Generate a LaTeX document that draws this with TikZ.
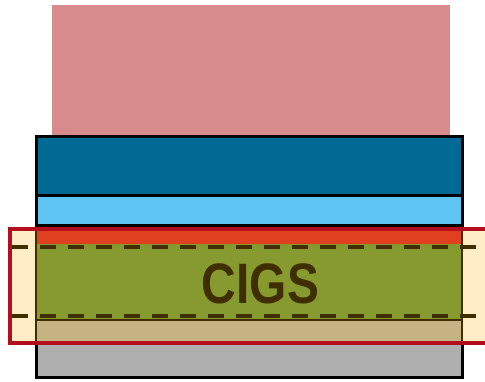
\documentclass[tikz,border=0pt]{standalone}
\usepackage{fontspec}
\usepackage{graphicx}
\setmainfont{Liberation Sans}
\definecolor{pinkc}{HTML}{D78B8C}
\definecolor{dblue}{HTML}{006A94}
\definecolor{lblue}{HTML}{5EC5F2}
\definecolor{redl}{HTML}{E0401F}
\definecolor{olive}{HTML}{869A2F}
\definecolor{tan}{HTML}{C5B383}
\definecolor{grayl}{HTML}{B0AFB0}
\definecolor{yel}{HTML}{FFEDC5}
\definecolor{redr}{HTML}{B30E1E}
\definecolor{brown}{HTML}{3F2F00}
\begin{document}
\begin{tikzpicture}[x=1pt,y=-1pt,
  blackline/.style={draw=black,line width=3pt},
  brownline/.style={draw=brown,line width=2.5pt},
  dashline/.style={draw=brown,line width=4pt,dash pattern=on 16pt off 12pt},
  label/.style={text=brown,font=\bfseries\fontsize{57}{60}\selectfont,inner sep=0pt,anchor=base}]
\useasboundingbox (0,0) rectangle (485,381);
% pink top
\fill[pinkc] (52,5) rectangle (450,137);
% yellow band
\fill[yel] (10,229) rectangle (490,343);
% layers
\fill[dblue] (36,136) rectangle (462,195);
\fill[lblue] (36,195) rectangle (462,226);
\fill[redl] (36,229) rectangle (462,244);
\fill[olive] (36,244) rectangle (462,320);
\fill[tan] (36,320) rectangle (462,344);
\fill[grayl] (36,344) rectangle (462,377);
% black frame
\draw[blackline] (36,229) -- (36,136) -- (462,136) -- (462,229);
\draw[blackline] (36,195) -- (462,195);
\draw[blackline] (36,225) -- (462,225);
\draw[blackline] (36,343) -- (36,377) -- (462,377) -- (462,343);
% brown frame
\draw[brownline] (36,229) -- (36,343);
\draw[brownline] (462,229) -- (462,343);
\draw[draw=brown,line width=2pt] (36,320) -- (462,320);
% red outline
\draw[draw=redr,line width=3.5pt] (10,229) rectangle (492,343);
% dashed lines
\draw[dashline] (12,247) -- (476,247);
\draw[dashline] (12,316) -- (476,316);
% text
\node[label] (cigs) at (260.5,303) {\scalebox{0.84}[1]{CIGS}};
\end{tikzpicture}
\end{document}
